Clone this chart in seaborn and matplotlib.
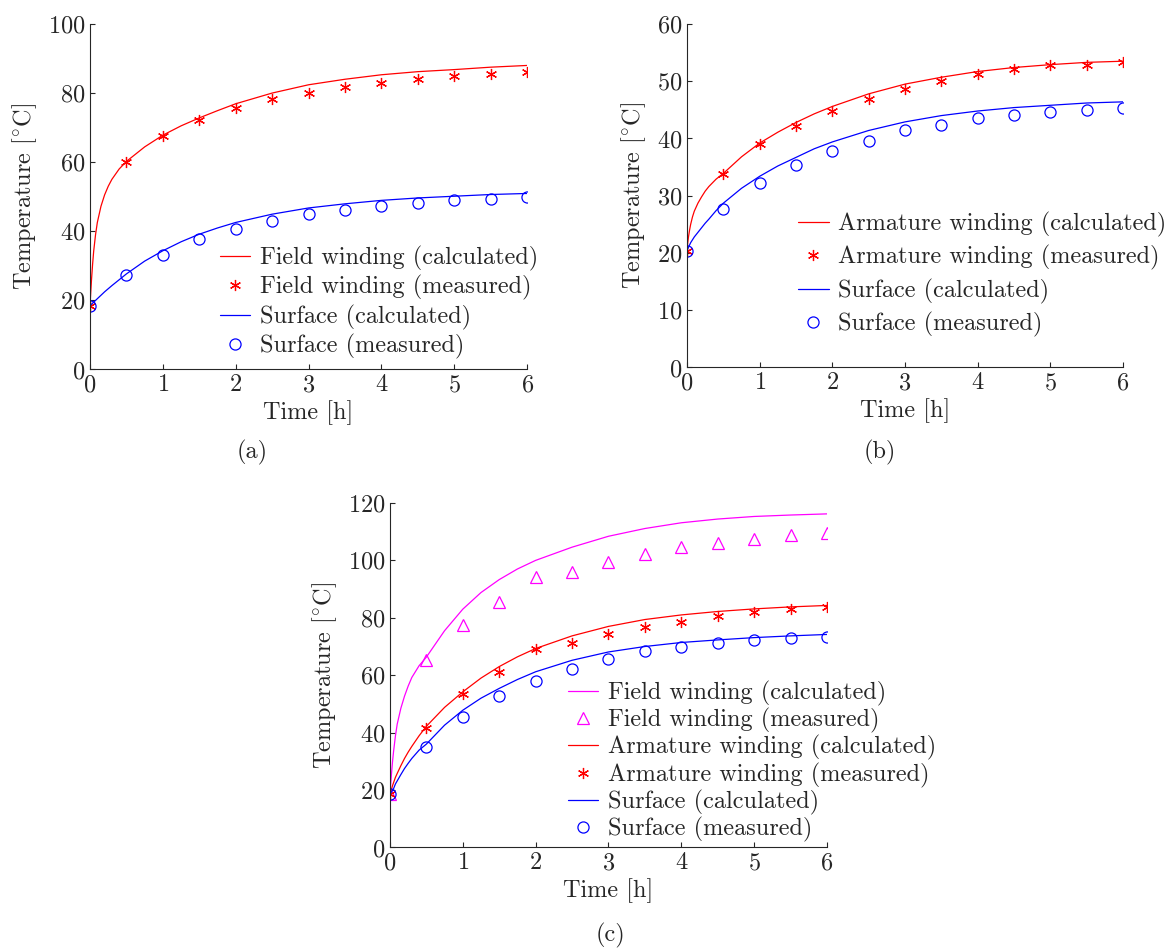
# Temperature rise test: calculated vs measured, three machines
import numpy as np
import pandas as pd
import matplotlib
matplotlib.use('Agg')
import matplotlib.pyplot as plt
import seaborn as sns

# --- Data ---
t_meas = [0, 0.5, 1, 1.5, 2, 2.5, 3, 3.5, 4, 4.5, 5, 5.5, 6]
t_calc = [0, 0.01, 0.02, 0.035, 0.05, 0.075, 0.1, 0.15, 0.2, 0.25, 0.3, 0.4, 0.5,
          0.75, 1, 1.25, 1.5, 1.75, 2, 2.5, 3, 3.5, 4, 4.5, 5, 5.5, 6]

# (a)
a_field_calc = [18.5, 22.5, 26.0, 30.5, 34.3, 39.0, 42.6, 47.3, 50.6, 53.1, 55.1, 58.1, 60.3,
                64.5, 67.9, 70.6, 72.9, 75.0, 77.0, 80.1, 82.5, 84.1, 85.4, 86.3, 86.9, 87.6, 88.1]
a_field_meas = [18.5, 60.0, 67.6, 72.2, 75.7, 78.3, 80.0, 81.8, 82.9, 84.1, 84.9, 85.6, 86.2]
a_surf_calc = [18.5, 18.7, 18.9, 19.2, 19.5, 20.0, 20.5, 21.5, 22.5, 23.4, 24.3, 26.0, 27.7,
               31.4, 34.4, 37.0, 39.2, 41.0, 42.6, 45.0, 46.8, 48.0, 49.0, 49.7, 50.2, 50.7, 51.0]
a_surf_meas = [18.5, 27.3, 33.3, 37.8, 40.6, 42.9, 45.0, 46.2, 47.5, 48.2, 49.1, 49.4, 50.0]

# (b)
b_arm_calc = [20.4, 21.8, 22.8, 24.0, 25.0, 26.3, 27.3, 28.7, 29.8, 30.8, 31.6, 32.9, 33.9,
              36.8, 39.2, 41.1, 42.8, 44.3, 45.6, 47.8, 49.5, 50.7, 51.7, 52.4, 52.9, 53.3, 53.5]
b_arm_meas = [20.4, 33.8, 39.1, 42.1, 44.8, 46.9, 48.7, 50.0, 51.2, 52.1, 52.8, 52.9, 53.3]
b_surf_calc = [20.4, 20.7, 21.0, 21.4, 21.8, 22.3, 22.8, 23.6, 24.4, 25.2, 25.9, 27.4, 28.7,
               31.3, 33.4, 35.2, 36.7, 38.2, 39.4, 41.4, 42.9, 44.0, 44.8, 45.4, 45.8, 46.2, 46.4]
b_surf_meas = [20.4, 27.7, 32.2, 35.4, 37.8, 39.6, 41.5, 42.4, 43.5, 44.1, 44.7, 45.0, 45.4]

# (c)
c_field_calc = [18.5, 22.0, 25.3, 29.8, 33.5, 38.8, 43.0, 48.5, 52.7, 56.2, 59.2, 63.3, 66.3,
                75.5, 83.0, 88.8, 93.3, 97.0, 100.0, 104.6, 108.4, 111.1, 113.1, 114.4, 115.3,
                115.8, 116.2]
c_field_meas = [18.5, 65.3, 77.5, 85.5, 94.3, 96.0, 99.5, 102.3, 104.7, 106.2, 107.5, 109.0, 109.7]
c_arm_calc = [18.5, 19.4, 20.2, 21.5, 22.6, 24.4, 25.8, 28.5, 31.0, 33.2, 35.2, 38.9, 42.2,
              48.8, 54.2, 59.0, 63.0, 66.4, 69.3, 73.7, 77.0, 79.4, 81.0, 82.2, 83.1, 83.8, 84.3]
c_arm_meas = [18.5, 41.7, 53.3, 61.0, 69.0, 71.2, 74.2, 76.8, 78.7, 80.6, 82.0, 83.1, 83.7]
c_surf_calc = [18.5, 18.9, 19.3, 19.9, 20.5, 22.1, 23.2, 25.4, 27.5, 29.3, 31.0, 33.9, 36.0,
               42.6, 47.8, 52.0, 55.4, 58.5, 61.2, 65.2, 68.1, 70.0, 71.4, 72.3, 73.1, 73.7, 74.2]
c_surf_meas = [18.5, 35.1, 45.5, 52.9, 58.1, 62.3, 65.5, 68.3, 69.7, 71.1, 72.1, 72.8, 73.3]

# --- Style ---
sns.set_style('ticks')
plt.rcParams['font.family'] = 'serif'
plt.rcParams['font.serif'] = ['cmr10']
plt.rcParams['mathtext.fontset'] = 'cm'
plt.rcParams['axes.unicode_minus'] = False
plt.rcParams['axes.formatter.use_mathtext'] = True
plt.rcParams['font.size'] = 17.5
plt.rcParams['text.color'] = '#262626'
plt.rcParams['axes.labelcolor'] = '#262626'
plt.rcParams['axes.edgecolor'] = '#262626'
plt.rcParams['axes.linewidth'] = 0.8
plt.rcParams['xtick.direction'] = 'in'
plt.rcParams['ytick.direction'] = 'in'
plt.rcParams['xtick.color'] = '#262626'
plt.rcParams['ytick.color'] = '#262626'
plt.rcParams['xtick.major.size'] = 3.5
plt.rcParams['ytick.major.size'] = 3.5

STAR = (6, 2, 0)
FS = 17.5


def calc(ax, y, color, label):
    df = pd.DataFrame({'t': t_calc, 'T': y})
    sns.lineplot(data=df, x='t', y='T', color=color, lw=0.9, label=label, ax=ax)


def meas(ax, y, color, marker, label, ms=8):
    df = pd.DataFrame({'t': t_meas, 'T': y})
    sns.lineplot(data=df, x='t', y='T', color=color, linestyle='none', marker=marker,
                 ms=ms, mfc='none', mec=color, mew=0.9, label=label, ax=ax)


def finish(ax, ymax, ystep, anchor, spacing):
    ax.set_xlim(0, 6)
    ax.set_ylim(0, ymax)
    ax.set_xticks(range(0, 7))
    ax.set_yticks(np.arange(0, ymax + 1, ystep))
    ax.tick_params(labelsize=FS)
    ax.set_xlabel('Time [h]', labelpad=3, fontsize=FS)
    ax.set_ylabel(r'Temperature [$^{\circ}\mathrm{C}$]', labelpad=6, fontsize=FS)
    sns.despine(ax=ax)
    ax.legend(loc='lower right', bbox_to_anchor=anchor, frameon=False,
              handlelength=1.25, handletextpad=0.4, labelspacing=spacing,
              borderpad=0, borderaxespad=0, fontsize=FS)


fig = plt.figure(figsize=(11.71, 9.49), dpi=100)

ax_a = fig.add_axes([0.0769, 0.6107, 0.3732, 0.3636])
calc(ax_a, a_field_calc, 'red', 'Field winding (calculated)')
meas(ax_a, a_field_meas, 'red', STAR, 'Field winding (measured)')
calc(ax_a, a_surf_calc, 'blue', 'Surface (calculated)')
meas(ax_a, a_surf_meas, 'blue', 'o', 'Surface (measured)')
finish(ax_a, 100, 20, (1.025, 0.03), 0.18)

ax_b = fig.add_axes([0.5867, 0.6128, 0.3723, 0.3619])
calc(ax_b, b_arm_calc, 'red', 'Armature winding (calculated)')
meas(ax_b, b_arm_meas, 'red', STAR, 'Armature winding (measured)')
calc(ax_b, b_surf_calc, 'blue', 'Surface (calculated)')
meas(ax_b, b_surf_meas, 'blue', 'o', 'Surface (measured)')
finish(ax_b, 60, 10, (1.1, 0.088), 0.34)

ax_c = fig.add_axes([0.3330, 0.1070, 0.3732, 0.3630])
calc(ax_c, c_field_calc, 'magenta', 'Field winding (calculated)')
meas(ax_c, c_field_meas, 'magenta', '^', 'Field winding (measured)', ms=9)
calc(ax_c, c_arm_calc, 'red', 'Armature winding (calculated)')
meas(ax_c, c_arm_meas, 'red', STAR, 'Armature winding (measured)')
calc(ax_c, c_surf_calc, 'blue', 'Surface (calculated)')
meas(ax_c, c_surf_meas, 'blue', 'o', 'Surface (measured)')
finish(ax_c, 120, 20, (1.25, 0.015), 0.09)

fig.text(252 / 1171, 1 - 452 / 949, '(a)', ha='center', va='center', fontsize=FS)
fig.text(880 / 1171, 1 - 452 / 949, '(b)', ha='center', va='center', fontsize=FS)
fig.text(610 / 1171, 1 - 935 / 949, '(c)', ha='center', va='center', fontsize=FS)

fig.savefig('out.png', dpi=100)
